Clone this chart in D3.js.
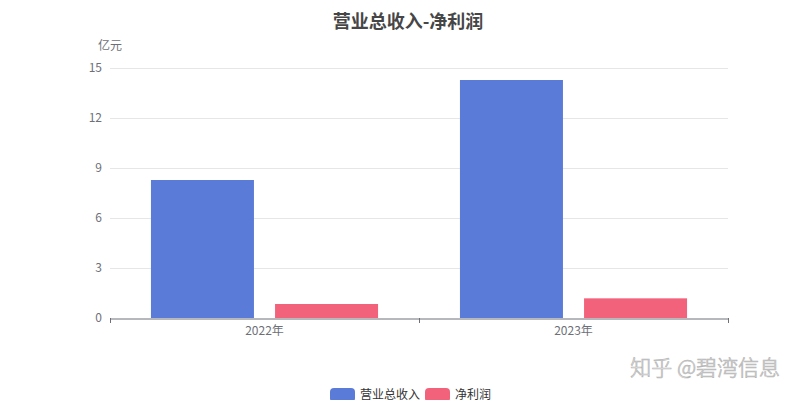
<!DOCTYPE html>
<html><head><meta charset="utf-8">
<script src="https://cdn.jsdelivr.net/npm/d3@7/dist/d3.min.js"></script>
<style>body{margin:0;background:#fff;}svg{display:block;font-family:"Noto Sans CJK SC","Noto Sans",sans-serif;}</style>
</head><body>
<svg id="c" width="800" height="400"></svg>
<script>
const categories = ["2022年", "2023年"];
const seriesNames = ["营业总收入", "净利润"];
const revenue = [8.28, 14.28];
const netProfit = [0.84, 1.18];
const yTicks = [0, 3, 6, 9, 12, 15];
const colors = ["#5b7bd8", "#f2637b"];

const svg = d3.select("#c");
const pLeft = 110, pRight = 728, pTop = 68, pBottom = 318;
const x = d3.scaleBand().domain(categories).range([pLeft, pRight]);
const xs = d3.scaleBand().domain(seriesNames).range([0, x.bandwidth()]).paddingInner(0.17).paddingOuter(0.33);
const y = d3.scaleLinear().domain([0, 15]).range([pBottom, pTop]);

// grid
svg.append("g").selectAll("line").data(yTicks.filter(d => d > 0)).join("line")
  .attr("x1", pLeft).attr("x2", pRight).attr("y1", d => y(d) + 0.5).attr("y2", d => y(d) + 0.5)
  .attr("stroke", "#e6e6e6");

// y labels
svg.append("g").selectAll("text").data(yTicks).join("text")
  .attr("x", pLeft - 8).attr("y", d => y(d)).attr("dy", "0.35em").attr("text-anchor", "end")
  .attr("fill", "#6e7079").attr("font-size", 12).text(d => d);

svg.append("text").attr("x", pLeft).attr("y", 50).attr("text-anchor", "middle")
  .attr("fill", "#6e7079").attr("font-size", 12).text("亿元");

// bars
const data = [revenue, netProfit];
data.forEach((vals, si) => {
  svg.append("g").selectAll("rect").data(vals).join("rect")
    .attr("x", (d, i) => x(categories[i]) + xs(seriesNames[si]))
    .attr("width", xs.bandwidth())
    .attr("y", d => y(d)).attr("height", d => pBottom - y(d))
    .attr("fill", colors[si]);
});

// x axis
const xa = svg.append("g").attr("transform", `translate(0,${pBottom + 0.5})`)
  .call(d3.axisBottom(x).tickSize(0).tickPadding(8));
xa.select(".domain").attr("stroke", "#6e7079");
xa.selectAll("text").attr("fill", "#6e7079").attr("font-size", 12).attr("font-family", '"Noto Sans CJK SC",sans-serif');
const edges = [pLeft, ...categories.map(c => x(c) + x.bandwidth())];
svg.append("g").selectAll("line").data(edges).join("line")
  .attr("x1", d => Math.round(d) + 0.5).attr("x2", d => Math.round(d) + 0.5)
  .attr("y1", pBottom).attr("y2", pBottom + 5).attr("stroke", "#6e7079");

// title
svg.append("text").attr("x", 408).attr("y", 28).attr("text-anchor", "middle")
  .attr("font-size", 18).attr("font-weight", "bold").attr("fill", "#464646").text("营业总收入-净利润");

// legend
const lg = [{n: seriesNames[0], x: 330}, {n: seriesNames[1], x: 425}];
lg.forEach((l, i) => {
  svg.append("rect").attr("x", l.x).attr("y", 388).attr("width", 25).attr("height", 14).attr("rx", 4)
    .attr("fill", colors[i]);
  svg.append("text").attr("x", l.x + 30).attr("y", 395).attr("dy", "0.35em")
    .attr("font-size", 12).attr("fill", "#333").text(l.n);
});

// watermark
svg.append("text").attr("x", 780).attr("y", 368).attr("dy", "0.35em").attr("text-anchor", "end")
  .attr("font-size", 21).attr("font-weight", 300).attr("fill", "#f3f3f3").attr("stroke", "#b5b5b5").attr("stroke-width", 0.7)
  .text("知乎 @碧湾信息");
</script>
</body></html>
